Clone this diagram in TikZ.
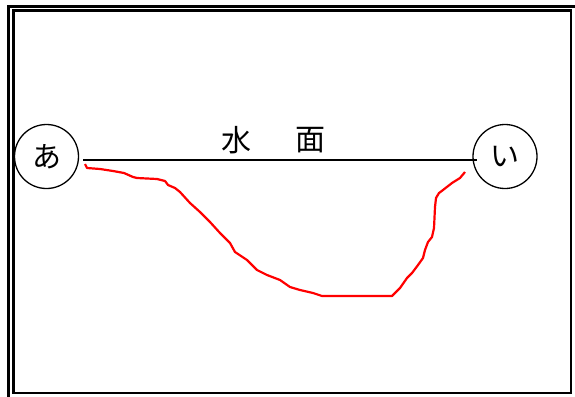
\documentclass[tikz,border=0pt]{standalone}
\usepackage{fontspec}
\newfontfamily\cjk{Noto Sans CJK JP}
\begin{document}
\begin{tikzpicture}[x=1pt,y=-1pt,
  frameline/.style={line width=2.2pt},
  endcircle/.style={circle,draw,line width=1.3pt,minimum size=64pt,inner sep=0pt,font=\cjk\fontsize{29}{29}\selectfont},
  surface/.style={line width=2.2pt},
  bed/.style={red,line width=2.2pt,line join=round},
  lbl/.style={font=\cjk\fontsize{30}{30}\selectfont,inner sep=0pt}]
\useasboundingbox (0,0) rectangle (575,396);
% frames
\draw[frameline] (8.5,400) -- (8.5,6.5) -- (580,6.5);
\draw[frameline] (13.5,10.5) rectangle (571,393);
% end circles
\node[endcircle] (a) at (46.5,156.5) {あ};
\node[endcircle] (i) at (505,156.5) {い};
% water surface
\coordinate (s1) at (83,160);
\coordinate (s2) at (477,160);
\draw[surface] (s1) -- (s2);
\node[lbl] (w1) at (236,140) {水};
\node[lbl] (w2) at (310,140) {面};
% river bed
\coordinate (b0) at (85,164);
\coordinate (b1) at (465,172);
\draw[bed] (b0) -- (87,168) -- (100,169) -- (113,171) -- (124,173) -- (133,177)
  -- (137,178) -- (157,179) -- (165,181) -- (168,185) -- (175,188) -- (180,192)
  -- (190,203) -- (200,212) -- (210,222) -- (220,233) -- (230,243) -- (235,252)
  -- (247,260) -- (257,270) -- (267,275) -- (280,280) -- (290,287) -- (300,290)
  -- (313,293) -- (322,296) -- (392,296) -- (400,288) -- (407,278) -- (412,273)
  -- (418,265) -- (423,258) -- (425,250) -- (428,242) -- (432,237) -- (434,228)
  -- (435,207) -- (436,198) -- (439,193) -- (443,190) -- (452,183) -- (460,178)
  -- (b1);
\end{tikzpicture}
\end{document}
